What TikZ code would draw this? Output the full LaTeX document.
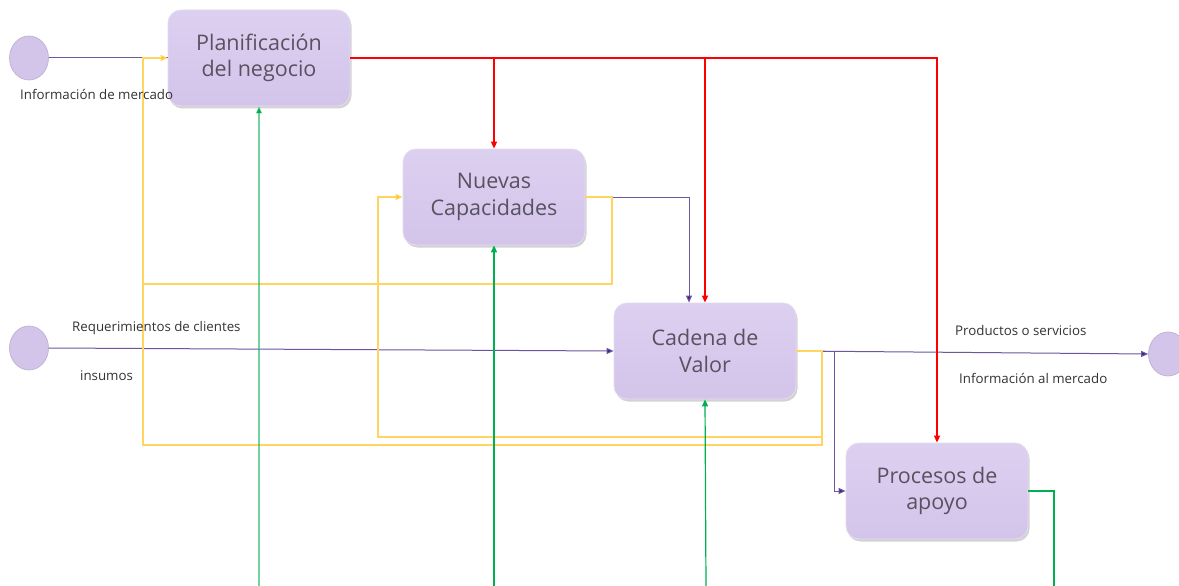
\documentclass[tikz,border=0pt]{standalone}
\usepackage{fontspec}
\setmainfont{Open Sans}
\usetikzlibrary{arrows.meta,shapes.geometric,shadows}
\definecolor{boxfill}{HTML}{D3C4EA}
\definecolor{boxtop}{HTML}{DCD0F0}
\definecolor{boxedge}{HTML}{E4DBF3}
\definecolor{boxtext}{HTML}{57525F}
\definecolor{purp}{HTML}{6E55A0}
\definecolor{purptip}{HTML}{3F2483}
\definecolor{yell}{HTML}{FFD560}
\definecolor{yelltip}{HTML}{FFC000}
\definecolor{redl}{HTML}{FF0000}
\definecolor{greenl}{HTML}{00B050}
\tikzset{
  box/.style={rectangle, rounded corners=13pt, minimum width=182pt, minimum height=96pt,
    top color=boxtop, bottom color=boxfill, draw=boxedge, line width=0.8pt,
    drop shadow={shadow xshift=1.5pt, shadow yshift=-2.5pt, opacity=0.35},
    align=center, text=boxtext, font=\fontsize{21.5}{28.5}\selectfont},
  circ/.style={ellipse, minimum width=39pt, minimum height=44pt, fill=boxfill, draw=purp!45, line width=0.7pt},
  lbl/.style={font=\fontsize{13.3}{15}\selectfont, text=black!80, inner sep=0pt, anchor=west},
  pline/.style={draw=purp, line width=1pt, -{Triangle[length=7pt,width=6pt,fill=purptip]}},
  pplain/.style={draw=purp, line width=1pt},
  yline/.style={draw=yell, line width=1.2pt, -{Triangle[length=7pt,width=6pt,fill=yelltip]}},
  yplain/.style={draw=yell, line width=1.2pt},
  rline/.style={draw=redl, line width=1.6pt, -{Triangle[length=7pt,width=6pt]}},
  rplain/.style={draw=redl, line width=1.6pt},
  gline/.style={draw=greenl, line width=1.2pt, -{Triangle[length=7pt,width=6pt]}},
  gplain/.style={draw=greenl, line width=1.2pt},
}
\begin{document}
\begin{tikzpicture}[x=1pt, y=-1pt]
\useasboundingbox (0,0) rectangle (1179,586);
\fill[white] (0,0) rectangle (1179,586);

% process boxes
\node[box] (plan) at (259,58) {\raisebox{-2pt}{Planificación}\\del negocio};
\node[box] (nc) at (494,197) {\raisebox{-2pt}{Nuevas}\\Capacidades};
\node[box] (cad) at (705,351) {\raisebox{-2pt}{Cadena de}\\Valor};
\node[box] (proc) at (937,491) {\raisebox{-2pt}{Procesos de}\\apoyo};

% external entities
\node[circ] (cin1) at (29,58) {};
\node[circ] (cin2) at (29,348) {};
\node[circ] (cout) at (1168,354) {};

% bend and free-end points
\coordinate (yl) at (143,58);
\coordinate (gb1) at (259,586);
\coordinate (gb2) at (494,586);
\coordinate (gb3) at (706,586);
\coordinate (gb4) at (1054,586);

% information flows (purple)
\draw[pplain] (cin1.east) -- (plan.west);
\draw[pline] (cin2.east) -- (cad.west);
\draw[pline] (cad.east) -- (cout.west);
\draw[pline] (nc.east) -| ([xshift=-16pt]cad.north);
\draw[pline] (cad.east) -- (834,351) |- (proc.west);

% feedback loops (yellow)
\draw[yplain] (nc.east) -- (612,197) -- (612,284) -- (143,284);
\draw[yline] (cad.east) -- (822,351) -- (822,437) -- (378,437) |- (nc.west);
\draw[yline] (cad.east) -- (822,351) -- (822,445) -- (143,445) -- (yl) -- (plan.west);

% planning directives (red)
\draw[rline] (plan.east) -| (proc.north);
\draw[rline] (plan.east -| nc.north) -- (nc.north);
\draw[rline] (plan.east -| cad.north) -- (cad.north);

% support (green)
\draw[gline, draw opacity=0.55] (gb1) -- (plan.south);
\draw[gline] (gb2) -- (nc.south);
\draw[gline] (gb3) -- (cad.south);
\draw[gplain] (proc.east) -| (gb4);

% labels
\node[lbl] (l1) at (20,94) {Información de mercado};
\node[lbl] (l2) at (72,328) {Requerimientos de clientes};
\node[lbl] (l3) at (80,376) {insumos};
\node[lbl] (l4) at (955,331) {Productos o servicios};
\node[lbl] (l5) at (959,378) {Información al mercado};
\end{tikzpicture}
\end{document}
